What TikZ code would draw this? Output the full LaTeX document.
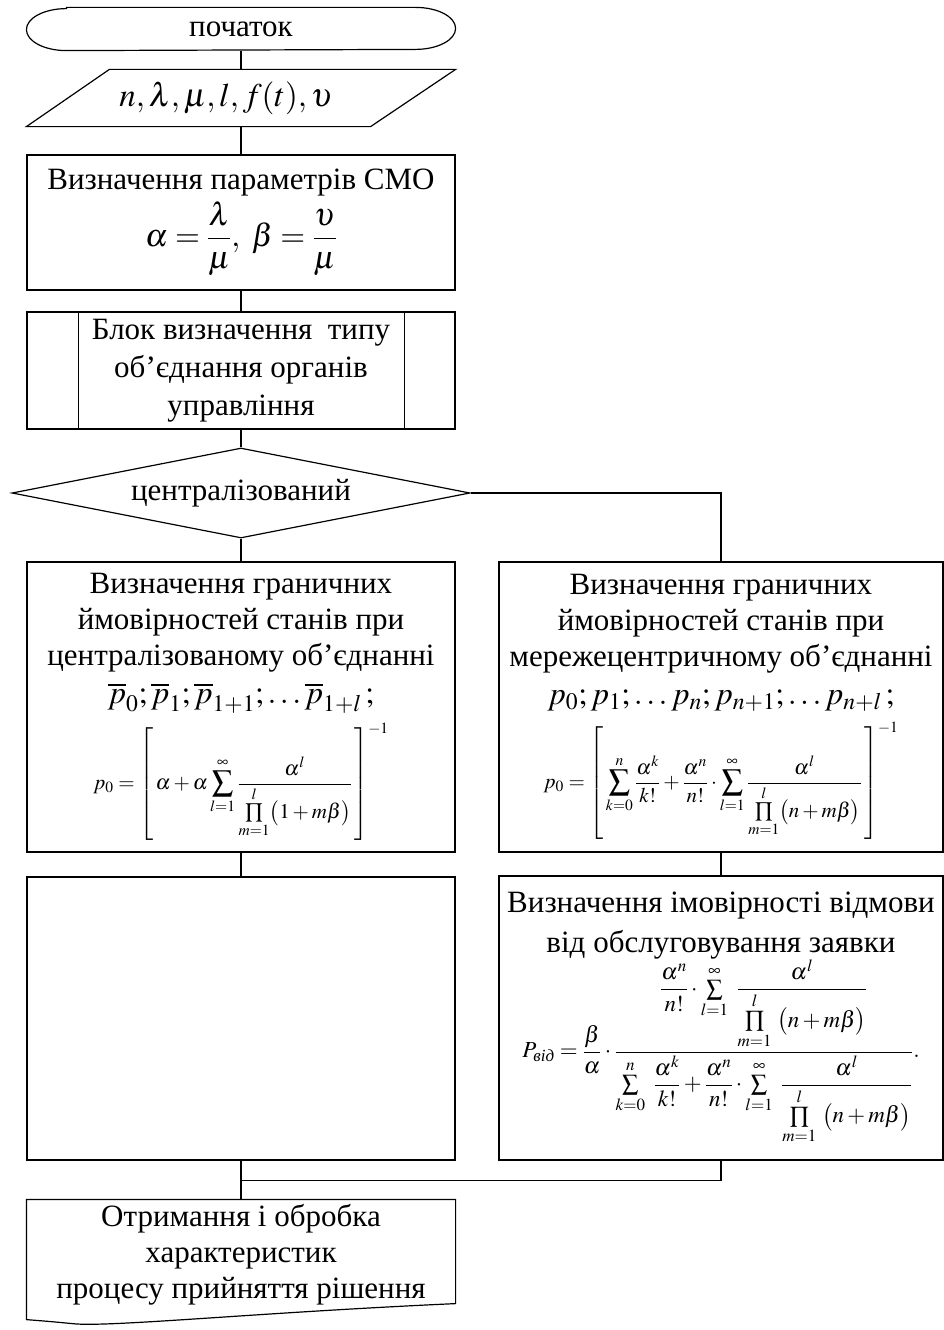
\documentclass[tikz,border=0pt]{standalone}
\usepackage{amsmath}
\usepackage[no-math]{fontspec}
\usepackage{mathptmx}
\setmainfont{Liberation Serif}
\usetikzlibrary{shapes.geometric, calc}

\begin{document}
\begin{tikzpicture}[x=1pt, y=-1pt, line width=1.2pt,
    txt/.style={font=\fontsize{31}{36}\selectfont, align=center, inner sep=1pt},
    blok/.style={txt, draw, rectangle, minimum width=428pt},
    wide/.style={txt, draw, rectangle, minimum width=444pt}]
  \useasboundingbox (0,0) rectangle (944,1330);

  \node[txt, minimum width=428pt, minimum height=42pt] (start) at (241,29) {початок};
  \draw ([xshift=40pt]start.north west) -- ([xshift=-40pt]start.north east)
    arc[start angle=90, end angle=-90, x radius=40pt, y radius=21pt]
    -- ([xshift=40pt]start.south west)
    arc[start angle=270, end angle=90, x radius=40pt, y radius=21pt] -- cycle;

  \node[txt, minimum width=428pt, minimum height=56pt] (input) at (241,98) {};
  \node[txt] (inputtext) at (226,98)
    {\fontsize{33}{36}\selectfont$n,\lambda,\mu,l,f(t),\upsilon$};
  \draw ([xshift=83pt]input.north west) -- (input.north east)
    -- ([xshift=-85pt]input.south east) -- (input.south west) -- cycle;

  \node[blok, minimum height=135pt] (params) at (241,222.5)
    {Визначення параметрів СМО\\[4pt]
     {\fontsize{32}{36}\selectfont$\alpha=\dfrac{\lambda}{\mu},\ \beta=\dfrac{\upsilon}{\mu}$}};

  \node[blok, minimum height=117pt, font=\fontsize{31}{38}\selectfont] (block) at (241,370.5)
    {Блок визначення\ \ типу\\ об’єднання органів\\ управління};
  \draw ([xshift=52pt]block.north west) -- ([xshift=52pt]block.south west);
  \draw ([xshift=-51pt]block.north east) -- ([xshift=-51pt]block.south east);

  \node[txt, diamond, draw, minimum width=458pt, minimum height=90pt, inner sep=0pt,
    shape aspect=5.09] (decision) at (241,493) {централізований};

  \node[blok, minimum height=290pt] (centr) at (241,707)
    {Визначення граничних\\ ймовірностей станів при\\ централізованому об’єднанні\\[2pt]
     {\fontsize{32}{36}\selectfont$\overline{p}_0;\overline{p}_1;\overline{p}_{1+1};\ldots\overline{p}_{1+l}\,;$}\\[9pt]
     {\fontsize{21}{24}\selectfont$\displaystyle p_0=\left[\,\alpha+\alpha\sum_{l=1}^{\infty}
       \frac{\alpha^l}{\prod\limits_{m=1}^{l}\bigl(1+m\beta\bigr)}\,\right]^{-1}$}};

  \node[wide, minimum height=290pt] (mesh) at (721,707)
    {Визначення граничних\\ ймовірностей станів при\\ мережецентричному об’єднанні\\[2pt]
     {\fontsize{32}{36}\selectfont$p_0;p_1;\ldots p_n;p_{n+1};\ldots p_{n+l}\,;$}\\[9pt]
     {\fontsize{21}{24}\selectfont$\displaystyle p_0=\left[\,\sum_{k=0}^{n}\frac{\alpha^k}{k!}+\frac{\alpha^n}{n!}\cdot
       \sum_{l=1}^{\infty}\frac{\alpha^l}{\prod\limits_{m=1}^{l}\bigl(n+m\beta\bigr)}\,\right]^{-1}$}};

  \node[blok, minimum height=283pt] (empty) at (241,1018.5) {};

  \node[wide, minimum height=284pt] (refuse) at (721,1018)
    {Визначення імовірності відмови\\[4pt] від обслуговування заявки\\[0pt]
     {\fontsize{23}{26}\selectfont$\displaystyle P_{\text{\itshape від}}=\frac{\beta}{\alpha}\cdot
       \frac{\dfrac{\alpha^n}{n!}\cdot\sum\limits_{l=1}^{\infty}\ \dfrac{\alpha^l}{\prod\limits_{m=1}^{l}\ \bigl(n+m\beta\bigr)}}
            {\sum\limits_{k=0}^{n}\ \dfrac{\alpha^k}{k!}+\dfrac{\alpha^n}{n!}\cdot\sum\limits_{l=1}^{\infty}\ \dfrac{\alpha^l}{\prod\limits_{m=1}^{l}\ \bigl(n+m\beta\bigr)}}.$}};

  \node[txt, minimum width=428pt, minimum height=110pt] (output) at (241,1255)
    {Отримання і обробка\\ характеристик\\ процесу прийняття рішення};
  \draw (output.north west) -- (output.north east) -- ($(output.south east)+(0,-7)$)
    .. controls ($(output.south east)+(-200,2)$) and ($(output.south west)+(80,17)$)
    .. ($(output.south west)+(46,13)$)
    .. controls ($(output.south west)+(25,11)$) .. ($(output.south west)+(0,9)$) -- cycle;

  \coordinate (merge) at ($(empty.south)+(0,20)$);

  \draw (start) -- (input);
  \draw (input) -- (params);
  \draw (params) -- (block);
  \draw (block) -- (decision.north);
  \draw (decision.south) -- (centr);
  \draw (decision.east) -| (mesh.north);
  \draw (centr) -- (empty);
  \draw (mesh) -- (refuse);
  \draw (empty) -- (output);
  \draw (refuse.south) |- (merge);
\end{tikzpicture}
\end{document}
